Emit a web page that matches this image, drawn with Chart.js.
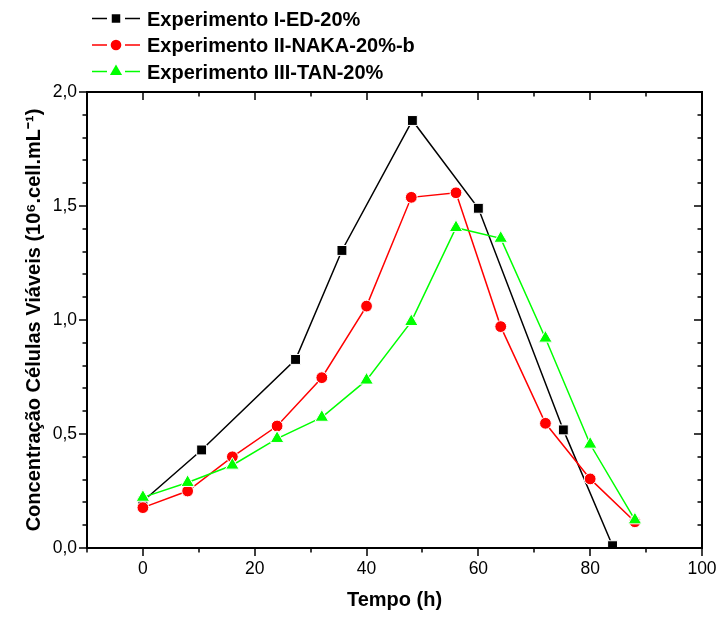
<!DOCTYPE html>
<html>
<head>
<meta charset="utf-8">
<script src="https://cdn.jsdelivr.net/npm/chart.js@4/dist/chart.umd.min.js"></script>
<style>
html,body{margin:0;padding:0;background:#fff;}
#wrap{width:717px;height:617px;position:relative;}
</style>
</head>
<body>
<div id="wrap"><canvas id="c" width="717" height="617"></canvas></div>
<script>
// ---- data ----
const seriesNames = ['Experimento I-ED-20%', 'Experimento II-NAKA-20%-b', 'Experimento III-TAN-20%'];
const timeED = [0, 10.5, 27.3, 35.6, 48.2, 60, 75.2, 84];
const valuesED = [0.205, 0.43, 0.827, 1.305, 1.875, 1.49, 0.518, 0.01];
const timeNAKA = [0, 8, 16, 24, 32, 40, 48, 56, 64, 72, 80, 88];
const valuesNAKA = [0.177, 0.25, 0.40, 0.535, 0.747, 1.061, 1.538, 1.558, 0.971, 0.547, 0.303, 0.115];
const timeTAN = [0, 8, 16, 24, 32, 40, 48, 56, 64, 72, 80, 88];
const valuesTAN = [0.222, 0.287, 0.363, 0.48, 0.573, 0.736, 0.993, 1.405, 1.358, 0.92, 0.455, 0.123];
const xTickValues = [0, 20, 40, 60, 80, 100];
const yTickValues = [0, 0.5, 1.0, 1.5, 2.0];
const xAxisTitle = 'Tempo (h)';
const yAxisTitle = 'Concentração Células Viáveis (10⁶.cell.mL⁻¹)';

const FONT = 'Arial, "Liberation Sans", Helvetica, sans-serif';
const colors = ['#000000', '#ff0000', '#00ff00'];
const styles = ['rect', 'circle', 'triangle'];
const radii = [7, 5.9, 7.8];
const legendRadii = [6, 5.3, 7];

function pts(xs, ys) { return xs.map((x, i) => ({x: x, y: ys[i]})); }

const datasets = [
  {label: seriesNames[0], data: pts(timeED, valuesED), order: 3},
  {label: seriesNames[1], data: pts(timeNAKA, valuesNAKA), order: 2},
  {label: seriesNames[2], data: pts(timeTAN, valuesTAN), order: 1}
].map((d, i) => Object.assign(d, {
  borderColor: colors[i],
  backgroundColor: colors[i],
  borderWidth: 1.5,
  pointStyle: styles[i],
  pointRadius: radii[i],
  pointHoverRadius: radii[i],
  pointBackgroundColor: colors[i],
  pointBorderColor: '#ffffff',
  pointBorderWidth: 1,
  tension: 0,
  fill: false
}));

// frame + ticks (Origin-like: out on bottom/left, in on top/right)
const framePlugin = {
  id: 'frame',
  afterDatasetsDraw(chart) {
    const ctx = chart.ctx, a = chart.chartArea, xs = chart.scales.x, ys = chart.scales.y;
    ctx.save();
    ctx.strokeStyle = '#000';
    ctx.lineWidth = 1.5;
    ctx.beginPath();
    for (let v = -10; v <= 100; v += 10) {
      const px = Math.round(xs.getPixelForValue(v));
      const len = (v % 20 === 0) ? 8 : 4.5;
      ctx.moveTo(px, a.bottom); ctx.lineTo(px, a.bottom + len);
      ctx.moveTo(px, a.top); ctx.lineTo(px, a.top + len);
    }
    for (let i = 0; i <= 20; i++) {
      const py = Math.round(ys.getPixelForValue(i / 10));
      const len = (i % 5 === 0) ? 8 : 4.5;
      ctx.moveTo(a.left - len, py); ctx.lineTo(a.left, py);
      ctx.moveTo(a.right - len, py); ctx.lineTo(a.right, py);
    }
    ctx.stroke();
    ctx.lineWidth = 2;
    ctx.strokeRect(a.left, a.top, a.right - a.left, a.bottom - a.top);
    ctx.restore();
  }
};

function drawMarker(ctx, style, x, y, r, color) {
  ctx.fillStyle = color;
  ctx.beginPath();
  if (style === 'rect') {
    const s = r * Math.SQRT1_2;
    ctx.rect(x - s, y - s, 2 * s, 2 * s);
  } else if (style === 'circle') {
    ctx.arc(x, y, r, 0, Math.PI * 2);
  } else {
    ctx.moveTo(x, y - r);
    ctx.lineTo(x + r * 0.866, y + r * 0.5);
    ctx.lineTo(x - r * 0.866, y + r * 0.5);
    ctx.closePath();
  }
  ctx.fill();
}

const legendPlugin = {
  id: 'originLegend',
  afterDraw(chart) {
    const ctx = chart.ctx;
    const rows = [18.5, 45, 71.5];
    ctx.save();
    chart.data.datasets.forEach((d, i) => {
      const y = rows[i];
      ctx.strokeStyle = colors[i];
      ctx.lineWidth = 1.5;
      ctx.beginPath();
      ctx.moveTo(92, y); ctx.lineTo(107, y);
      ctx.moveTo(125, y); ctx.lineTo(140, y);
      ctx.stroke();
      drawMarker(ctx, styles[i], 116, y, legendRadii[i], colors[i]);
      ctx.fillStyle = '#000';
      ctx.font = 'bold 20px ' + FONT;
      ctx.textBaseline = 'alphabetic';
      ctx.textAlign = 'left';
      ctx.fillText(d.label, 147, y + 7.2);
    });
    ctx.restore();
  }
};

new Chart(document.getElementById('c'), {
  type: 'line',
  data: {datasets: datasets},
  options: {
    responsive: false,
    animation: false,
    devicePixelRatio: 1,
    layout: {padding: {top: 92, right: 15, bottom: 0, left: 0}},
    plugins: {legend: {display: false}, tooltip: {enabled: false}},
    scales: {
      x: {
        type: 'linear',
        min: -10, max: 100,
        afterBuildTicks: s => { s.ticks = xTickValues.map(v => ({value: v})); },
        afterFit: s => { s.height = 69; s.paddingLeft = 0; s.paddingRight = 0; },
        grid: {display: true, drawOnChartArea: false, drawTicks: true, tickLength: 8, color: 'rgba(0,0,0,0)'},
        border: {display: false},
        ticks: {color: '#000', font: {family: FONT, size: 17.5}, padding: 3, autoSkip: false, maxRotation: 0,
                callback: v => String(v)},
        title: {display: true, text: xAxisTitle, color: '#000', font: {family: FONT, size: 20, weight: 'bold', lineHeight: 1.2},
                padding: {top: 0, bottom: 4.5}}
      },
      y: {
        type: 'linear',
        min: 0, max: 2,
        afterBuildTicks: s => { s.ticks = yTickValues.map(v => ({value: v})); },
        afterFit: s => { s.width = 87; s.paddingTop = 0; s.paddingBottom = 0; },
        grid: {display: true, drawOnChartArea: false, drawTicks: true, tickLength: 8, color: 'rgba(0,0,0,0)'},
        border: {display: false},
        ticks: {color: '#000', font: {family: FONT, size: 17.5}, padding: 2, autoSkip: false,
                callback: v => v.toFixed(1).replace('.', ',')},
        title: {display: true, text: yAxisTitle, color: '#000', font: {family: FONT, size: 20, weight: 'bold', lineHeight: 1.2},
                padding: {top: 22, bottom: 0}}
      }
    }
  },
  plugins: [framePlugin, legendPlugin]
});
</script>
</body>
</html>
